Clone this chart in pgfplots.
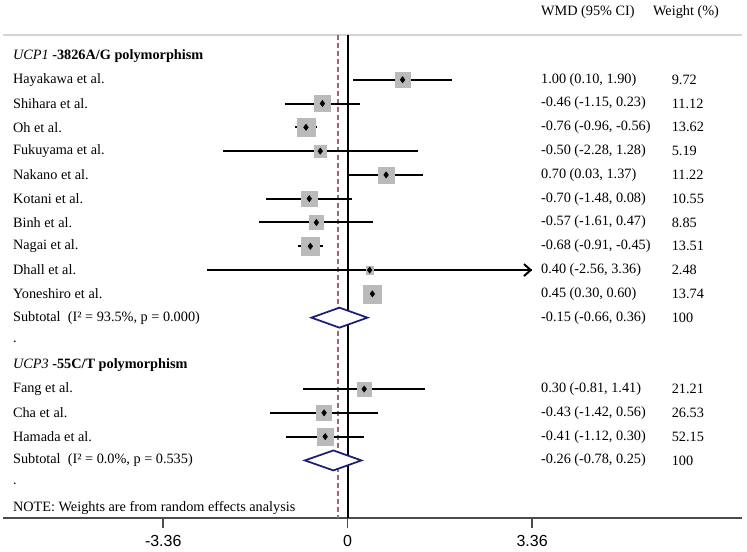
\documentclass[border=0pt]{standalone}
\usepackage{fontspec}
\setmainfont{Liberation Serif}
\setsansfont{Liberation Sans}
\usepackage{pgfplots}
\usepackage{pgfplotstable}
\pgfplotsset{compat=1.18}
\usetikzlibrary{arrows.meta}

\definecolor{sqgray}{RGB}{186,186,186}
\definecolor{dnavy}{RGB}{28,30,115}
\definecolor{dashred}{RGB}{168,100,110}
\definecolor{topgray}{RGB}{212,212,212}
\definecolor{axgray}{RGB}{75,75,75}

% y = -row, s = half side of the weight square (pt)
\pgfplotstableread{
y    est   lo    hi    s
-1   1.00  0.10  1.90  5.4
-2  -0.46 -1.15  0.23  6.1
-3  -0.76 -0.96 -0.56  6.7
-4  -0.50 -2.28  1.28  4.3
-5   0.70  0.03  1.37  6.0
-6  -0.70 -1.48  0.08  5.8
-7  -0.57 -1.61  0.47  5.4
-8  -0.68 -0.91 -0.45  6.5
-9   0.40 -2.56  3.36  2.9
-10  0.45  0.30  0.60  6.8
-14  0.30 -0.81  1.41  5.25
-15 -0.43 -1.42  0.56  5.5
-16 -0.41 -1.12  0.30  6.25
}\studies

\begin{document}
\begin{tikzpicture}[font=\fontsize{10.7}{12}\selectfont]
\begin{axis}[
    scale only axis,
    width=554pt, height=362.25pt,
    xmin=-6.279, xmax=7.177,
    ymin=-19.42, ymax=0.88,
    axis x line=bottom,
    axis y line=none,
    x axis line style={-, axgray, line width=1.2pt},
    xtick={-3.36,0,3.36},
    xticklabels={-3.36,0,3.36},
    tick align=outside,
    major tick length=7.5pt,
    xtick style={axgray, line width=1.2pt},
    xticklabel style={font=\fontsize{12}{14}\sffamily, yshift=-2pt},
    clip=false,
]
\coordinate (bl) at (rel axis cs:0,0);
\coordinate (tr) at (rel axis cs:1,1);
\draw[topgray, line width=1.2pt] (rel axis cs:0,1) -- (rel axis cs:1,1);

% reference lines
\addplot[black, line width=1.3pt] coordinates {(0,0.88) (0,-19.42)};
\addplot[dashred, line width=1.2pt, dash pattern=on 3.6pt off 2.4pt]
    coordinates {(-0.18,0.88) (-0.18,-19.42)};

% weight squares
\addplot[scatter, only marks, mark=square*,
    scatter/use mapped color={draw=sqgray, fill=sqgray},
    visualization depends on={\thisrow{s}\as\msize},
    scatter/@pre marker code/.append style={/tikz/mark size=\msize}]
    table[x=est, y=y] {\studies};

% confidence intervals and point estimates
\addplot[black, only marks, mark=diamond*, mark size=2.3pt,
    error bars/.cd, x dir=both, x explicit, error mark=none,
    error bar style={line width=1.5pt, black}]
    table[x=est, y=y,
      x error plus expr=\thisrow{hi}-\thisrow{est},
      x error minus expr=\thisrow{est}-\thisrow{lo}] {\studies};
\addplot[black, line width=1.5pt, -{Straight Barb[length=5pt,width=9pt]}]
    coordinates {(3.0,-9) (3.36,-9)};

% subtotals
\addplot[dnavy, line width=1.3pt, fill=white, line join=miter]
    coordinates {(-0.66,-11) (-0.15,-10.58) (0.36,-11) (-0.15,-11.42)} -- cycle;
\addplot[dnavy, line width=1.3pt, fill=white, line join=miter]
    coordinates {(-0.78,-17) (-0.26,-16.58) (0.25,-17) (-0.26,-17.42)} -- cycle;

\begin{scope}[every node/.style={anchor=west, inner sep=0pt}]
% column headers
\node at (axis cs:3.52,1.85) {WMD (95\% CI)};
\node at (axis cs:5.56,1.85) {Weight (\%)};

% study labels
\node at (axis cs:-6.1,0)   {\textit{UCP1} \textbf{-3826A/G polymorphism}};
\node at (axis cs:-6.1,-1)  {Hayakawa et al.};
\node at (axis cs:-6.1,-2)  {Shihara et al.};
\node at (axis cs:-6.1,-3)  {Oh et al.};
\node at (axis cs:-6.1,-4)  {Fukuyama et al.};
\node at (axis cs:-6.1,-5)  {Nakano et al.};
\node at (axis cs:-6.1,-6)  {Kotani et al.};
\node at (axis cs:-6.1,-7)  {Binh et al.};
\node at (axis cs:-6.1,-8)  {Nagai et al.};
\node at (axis cs:-6.1,-9)  {Dhall et al.};
\node at (axis cs:-6.1,-10) {Yoneshiro et al.};
\node at (axis cs:-6.1,-11) {Subtotal\ \ (I² = 93.5\%, p = 0.000)};
\node at (axis cs:-6.1,-12) {.};
\node at (axis cs:-6.1,-13) {\textit{UCP3} \textbf{-55C/T polymorphism}};
\node at (axis cs:-6.1,-14) {Fang et al.};
\node at (axis cs:-6.1,-15) {Cha et al.};
\node at (axis cs:-6.1,-16) {Hamada et al.};
\node at (axis cs:-6.1,-17) {Subtotal\ \ (I² = 0.0\%, p = 0.535)};
\node at (axis cs:-6.1,-18) {.};
\node at (axis cs:-6.1,-19) {NOTE: Weights are from random effects analysis};

% WMD column
\node at (axis cs:3.52,-1)  {1.00 (0.10, 1.90)};
\node at (axis cs:3.52,-2)  {-0.46 (-1.15, 0.23)};
\node at (axis cs:3.52,-3)  {-0.76 (-0.96, -0.56)};
\node at (axis cs:3.52,-4)  {-0.50 (-2.28, 1.28)};
\node at (axis cs:3.52,-5)  {0.70 (0.03, 1.37)};
\node at (axis cs:3.52,-6)  {-0.70 (-1.48, 0.08)};
\node at (axis cs:3.52,-7)  {-0.57 (-1.61, 0.47)};
\node at (axis cs:3.52,-8)  {-0.68 (-0.91, -0.45)};
\node at (axis cs:3.52,-9)  {0.40 (-2.56, 3.36)};
\node at (axis cs:3.52,-10) {0.45 (0.30, 0.60)};
\node at (axis cs:3.52,-11) {-0.15 (-0.66, 0.36)};
\node at (axis cs:3.52,-14) {0.30 (-0.81, 1.41)};
\node at (axis cs:3.52,-15) {-0.43 (-1.42, 0.56)};
\node at (axis cs:3.52,-16) {-0.41 (-1.12, 0.30)};
\node at (axis cs:3.52,-17) {-0.26 (-0.78, 0.25)};

% weight column
\node at (axis cs:5.9,-1)  {9.72};
\node at (axis cs:5.9,-2)  {11.12};
\node at (axis cs:5.9,-3)  {13.62};
\node at (axis cs:5.9,-4)  {5.19};
\node at (axis cs:5.9,-5)  {11.22};
\node at (axis cs:5.9,-6)  {10.55};
\node at (axis cs:5.9,-7)  {8.85};
\node at (axis cs:5.9,-8)  {13.51};
\node at (axis cs:5.9,-9)  {2.48};
\node at (axis cs:5.9,-10) {13.74};
\node at (axis cs:5.9,-11) {100};
\node at (axis cs:5.9,-14) {21.21};
\node at (axis cs:5.9,-15) {26.53};
\node at (axis cs:5.9,-16) {52.15};
\node at (axis cs:5.9,-17) {100};
\end{scope}
\end{axis}
\pgfresetboundingbox
\useasboundingbox ([shift={(-2.25pt,-24.75pt)}]bl) rectangle ([shift={(4pt,26.25pt)}]tr);
\end{tikzpicture}
\end{document}
